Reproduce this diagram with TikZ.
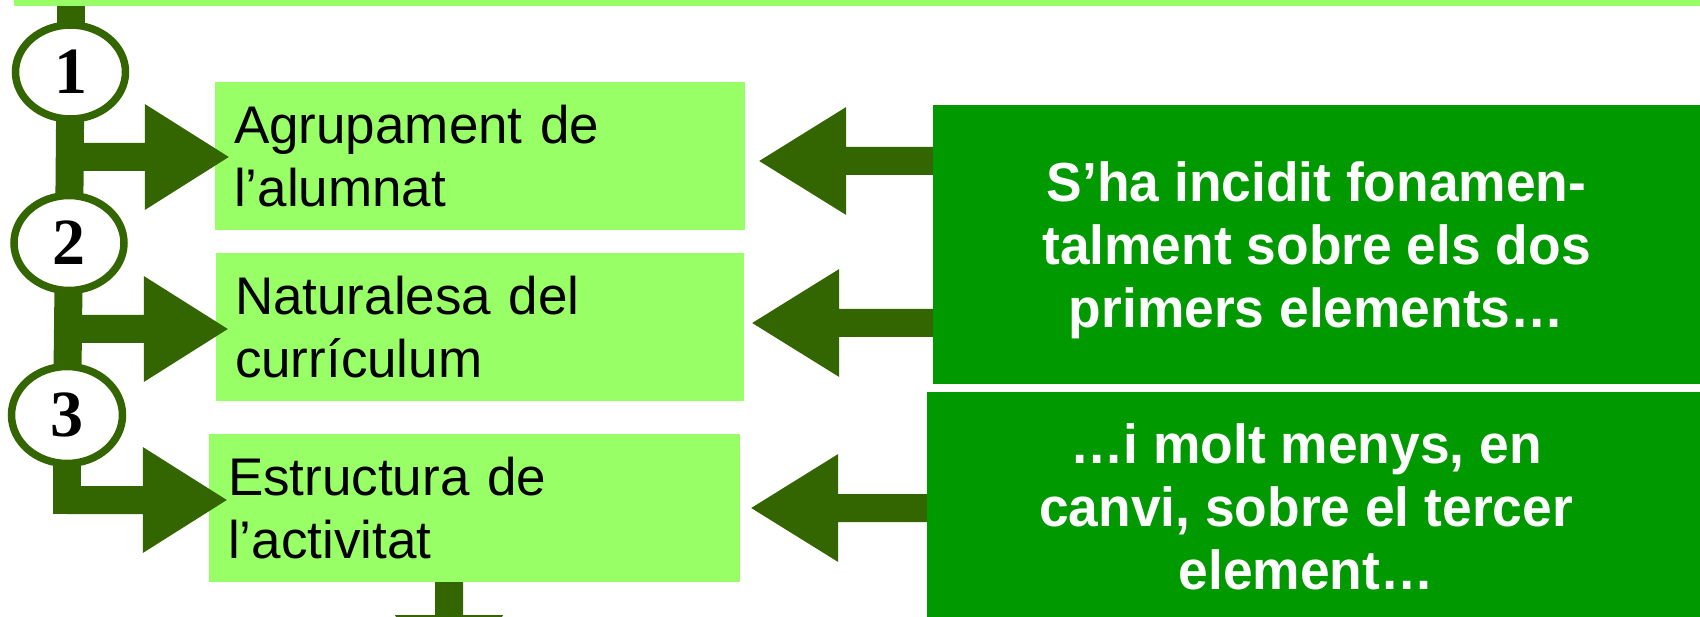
\documentclass[tikz,border=0pt]{standalone}
\usepackage{fontspec}
\setmainfont{Liberation Sans}
\newfontfamily\rfont{Liberation Sans}[FakeStretch=0.97]
\newfontfamily\numfont{Liberation Serif}
\usetikzlibrary{calc,shapes.geometric}
\definecolor{lightg}{HTML}{99FF66}
\definecolor{darkg}{HTML}{009900}
\definecolor{olivec}{HTML}{336600}
% horizontal block arrow: #1 start (x used), #2 tip, #3 head length, #4 head half height, #5 shaft half height, #6 direction (1 right, -1 left)
\newcommand\harrow[6]{%
  \fill[olivec] let \p1=(#1), \p2=(#2) in
   (\x1,\y2+#5) -- (\x2-#6*#3,\y2+#5) -- (\x2-#6*#3,\y2+#4) -- (\x2,\y2)
   -- (\x2-#6*#3,\y2-#4) -- (\x2-#6*#3,\y2-#5) -- (\x1,\y2-#5) -- cycle;}
\begin{document}
\begin{tikzpicture}[x=1pt,y=-1pt,
  lbox/.style={fill=lightg, text width=#1, inner xsep=19pt, inner ysep=0pt,
    minimum height=148pt, align=left, text=black,
    font=\fontsize{53}{63}\selectfont},
  rbox/.style={fill=darkg, inner sep=0pt},
  rtext/.style={text=white, align=center, inner sep=0pt,
    font=\rfont\bfseries\fontsize{55}{63}\selectfont},
  circ/.style={ellipse, draw=olivec, line width=7.5pt, fill=white,
    minimum width=110pt, minimum height=94pt, inner sep=0pt,
    font=\numfont\bfseries\fontsize{66}{66}\selectfont},
  stem/.style={draw=olivec, line width=28pt}]
\useasboundingbox (0,0) rectangle (1700,617);
\clip (0,0) rectangle (1700,617);

% top bar
\node[fill=lightg, minimum width=1700pt, minimum height=16pt, inner sep=0pt,
  anchor=south west] (top) at (14,6) {};

% light boxes
\node[lbox=492pt] (b1) at (480,156) {Agrupament de\\l’alumnat};
\node[lbox=490pt] (b2) at (480,327) {Naturalesa del\\currículum};
\node[lbox=493pt] (b3) at (474.5,508) {Estructura de\\l’activitat};

% dark boxes
\node[rbox, minimum width=780pt, minimum height=279pt] (r1) at (1323,244.5) {};
\node[rtext] (t1) at (1316.5,250) {S’ha incidit fonamen-\\talment sobre els dos\\primers elements…};
\node[rbox, minimum width=780pt, minimum height=248pt] (r2) at (1317,516) {};
\node[rtext] (t2) at (1306,506.8) {…i molt menys, en\\canvi, sobre el tercer\\element…};

% arrow tip coordinates
\coordinate (a1) at ($(b1.west)+(14,1)$);
\coordinate (a2) at ($(b2.west)+(12,2)$);
\coordinate (a3) at ($(b3.west)+(18,-8)$);
\coordinate (la) at ($(b1.east)+(14,5)$);
\coordinate (lb) at ($(b2.east)+(8,-4)$);
\coordinate (lc) at ($(b3.east)+(11,0)$);

% circles placement (needed before stems)
\path (70.5,72) coordinate (p1) (69,243) coordinate (p2) (67,415) coordinate (p3);

% stems
\draw[stem] (top.south -| p1) -- (p1);
\draw[stem] (p1) -- (p2);
\draw[stem] (p2) -- (p3);
\draw[stem] (p3) -- ($(p3 |- a3)+(0,14)$);

% right-pointing arrows from the stem
\harrow{p1}{a1}{84pt}{53pt}{14pt}{1}
\harrow{p2}{a2}{84pt}{53pt}{14pt}{1}
\harrow{p3}{a3}{84pt}{53pt}{14pt}{1}

% left-pointing arrows from the dark boxes
\harrow{r1.west}{la}{87pt}{54pt}{14pt}{-1}
\harrow{r1.west}{lb}{87pt}{54pt}{14pt}{-1}
\harrow{r2.west}{lc}{87pt}{54pt}{14pt}{-1}

% downward arrow below box 3
\coordinate (d0) at ($(b3.south)+(-25.5,0)$);
\coordinate (d1) at ($(d0)+(0,120)$);
\fill[olivec] let \p1=(d0), \p2=(d1) in
  (\x1-14pt,\y1) -- (\x1-14pt,\y2+87pt) -- (\x1-54pt,\y2+87pt) -- (\x1,\y2)
  -- (\x1+54pt,\y2+87pt) -- (\x1+14pt,\y2+87pt) -- (\x1+14pt,\y1) -- cycle;

% numbered circles
\node[circ] (c1) at (p1) {1};
\node[circ, minimum height=95pt] (c2) at (p2) {2};
\node[circ, minimum width=111pt, minimum height=97pt] (c3) at (p3) {3};
\end{tikzpicture}
\end{document}
